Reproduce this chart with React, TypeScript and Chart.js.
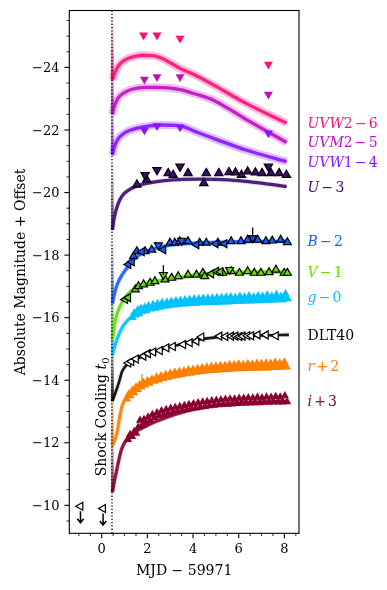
import React, { useEffect, useRef } from 'react';
import { Chart, registerables } from 'chart.js';
Chart.register(...registerables);

type P = [number, number];

// ---------- axis / tick data ----------
const xMin = -1.42;
const xMax = 8.64;
const yMin = -25.82;
const yMax = -9.106;
const xTicks = [0, 2, 4, 6, 8];
const yTicks = [-24, -22, -20, -18, -16, -14, -12, -10];
const t0 = 0.45;

// ---------- bands ----------
const bandNames = ['UVW2', 'UVM2', 'UVW1', 'U', 'B', 'V', 'g', 'DLT40', 'r', 'i'];
const bandOffsets = ['−6', '−5', '−4', '−3', '−2', '−1', '−0', '', '+2', '+3'];
const bandColors = ['#ff0f78', '#bf12bf', '#8a14ff', '#3e0b70', '#1c5cff', '#66dd00', '#00c2ff', '#000000', '#ff8000', '#8a0033'];

// ---------- shock-cooling model curves (MJD-59971, abs mag + offset) ----------
const uvw2Model: P[] = [[0.45, -27], [0.47, -23.6], [0.55, -23.78], [0.7, -24.02], [0.9, -24.18], [1.2, -24.3], [1.5, -24.36], [1.8, -24.39], [2.2, -24.38], [2.6, -24.3], [3.0, -24.15], [3.43, -23.97], [4.1, -23.75], [4.87, -23.45], [6.32, -22.85], [8.1, -22.22]];
const uvm2Model: P[] = [[0.45, -27], [0.47, -22.5], [0.55, -22.75], [0.7, -23.0], [0.9, -23.15], [1.2, -23.27], [1.5, -23.33], [1.9, -23.36], [2.4, -23.36], [3.0, -23.34], [3.5, -23.28], [4.1, -23.15], [4.87, -22.96], [6.32, -22.34], [8.1, -21.6]];
const uvw1Model: P[] = [[0.45, -27], [0.47, -21.2], [0.55, -21.45], [0.7, -21.7], [0.9, -21.85], [1.2, -21.98], [1.6, -22.07], [2.1, -22.13], [2.6, -22.16], [3.2, -22.15], [3.6, -22.1], [4.2, -21.92], [4.87, -21.74], [6.32, -21.36], [8.1, -20.99]];
const uModel: P[] = [[0.45, -27], [0.47, -18.8], [0.55, -19.2], [0.65, -19.5], [0.8, -19.78], [1.0, -19.98], [1.5, -20.2], [2.0, -20.3], [2.5, -20.36], [3.0, -20.4], [3.6, -20.42], [4.3, -20.43], [5.0, -20.42], [6.0, -20.38], [7.0, -20.3], [8.1, -20.19]];
const bModel: P[] = [[0.45, -27], [0.47, -16.45], [0.55, -16.75], [0.7, -17.1], [0.9, -17.38], [1.2, -17.68], [1.5, -17.93], [2.0, -18.13], [2.5, -18.25], [3.0, -18.32], [4.0, -18.38], [5.0, -18.41], [6.0, -18.43], [7.0, -18.44], [8.1, -18.44]];
const vModel: P[] = [[0.45, -27], [0.47, -15.3], [0.6, -15.94], [0.8, -16.36], [1.0, -16.62], [1.3, -16.86], [1.7, -17.03], [2.4, -17.17], [3.6, -17.3], [4.5, -17.4], [5.5, -17.44], [6.5, -17.46], [8.1, -17.46]];
const gModel: P[] = [[0.45, -27], [0.47, -14.8], [0.6, -15.15], [0.8, -15.55], [1.0, -15.8], [1.3, -16.03], [1.7, -16.2], [2.3, -16.35], [3.0, -16.45], [4.0, -16.53], [5.0, -16.58], [6.0, -16.61], [7.0, -16.63], [8.1, -16.65]];
const dltModel: P[] = [[0.45, -27], [0.47, -13.33], [0.6, -13.6], [0.75, -13.92], [0.89, -14.28], [1.11, -14.5], [1.5, -14.66], [2.0, -14.84], [2.8, -15.03], [3.6, -15.17], [4.3, -15.3], [5.0, -15.37], [6.0, -15.41], [7.0, -15.43], [8.2, -15.45]];
const rModel: P[] = [[0.45, -27], [0.47, -11.9], [0.55, -12.05], [0.67, -12.32], [0.78, -12.8], [0.89, -13.17], [1.11, -13.49], [1.4, -13.7], [1.84, -13.91], [2.43, -14.07], [3.15, -14.23], [4.03, -14.34], [4.62, -14.39], [5.5, -14.42], [6.5, -14.44], [8.1, -14.46]];
const iModel: P[] = [[0.45, -27], [0.47, -10.42], [0.55, -10.75], [0.65, -11.1], [0.75, -11.45], [0.85, -11.75], [1.0, -12.0], [1.2, -12.2], [1.4, -12.32], [2.1, -12.59], [2.8, -12.8], [3.7, -13.01], [4.6, -13.15], [5.5, -13.24], [6.5, -13.29], [8.1, -13.33]];
const models = [uvw2Model, uvm2Model, uvw1Model, uModel, bModel, vModel, gModel, dltModel, rModel, iModel];

// ---------- photometry ----------
const uvw2Swift: P[] = [[1.83, -25.03], [2.42, -25.03], [3.43, -24.93], [7.3, -24.1]];
const uvm2Swift: P[] = [[1.87, -23.62], [2.42, -23.7], [3.43, -23.7], [7.3, -23.14]];
const uvw1Swift: P[] = [[1.87, -22.0], [2.42, -22.13], [3.43, -22.09], [7.3, -21.9]];
const uSwift: P[] = [[1.9, -20.56], [2.42, -20.72], [3.43, -20.83], [7.3, -20.83]];
const uLco: P[] = [[1.54, -20.25], [1.97, -20.41], [2.91, -20.62], [3.13, -20.56], [3.78, -20.62], [4.47, -20.3], [4.58, -20.62], [5.13, -20.62], [5.57, -20.65], [5.86, -20.64], [6.12, -20.56], [6.39, -20.67], [6.73, -20.64], [7.02, -20.62], [7.41, -20.62], [7.77, -20.62], [8.09, -20.56]];
const bOther: P[] = [[1.17, -17.7], [1.32, -17.79], [1.76, -18.11], [2.7, -18.17], [4.15, -18.33], [4.99, -18.36], [5.38, -18.36]];
const bLco: P[] = [[1.39, -17.96], [1.54, -18.12], [1.9, -18.12], [2.19, -18.17], [2.99, -18.39], [3.2, -18.39], [3.42, -18.44], [3.78, -18.44], [4.29, -18.39], [4.58, -18.39], [5.09, -18.39], [5.67, -18.44], [6.1, -18.44], [6.39, -18.49], [6.83, -18.49], [7.19, -18.44], [7.47, -18.46], [7.84, -18.49], [8.13, -18.41]];
const bSwift: P[] = [[2.48, -18.32], [3.5, -18.46], [6.61, -18.55]];
const vOther: P[] = [[1.03, -16.58], [1.16, -16.64], [4.8, -17.4], [5.02, -17.48], [5.2, -17.47]];
const vLco: P[] = [[1.47, -16.9], [1.61, -17.0], [1.83, -17.06], [2.12, -17.11], [2.33, -17.16], [2.77, -17.22], [3.06, -17.27], [3.35, -17.32], [3.78, -17.37], [4.15, -17.37], [4.43, -17.43], [4.51, -17.32], [5.3, -17.43], [5.67, -17.48], [6.03, -17.43], [6.39, -17.48], [6.68, -17.43], [6.97, -17.43], [7.33, -17.45], [7.63, -17.53], [7.99, -17.43], [8.13, -17.43]];
const vSwift: P[] = [[2.7, -17.37], [5.6, -17.53]];
const gData: P[] = [[1.35, -16.0], [1.42, -16.15], [1.5, -16.08], [1.58, -16.25], [1.65, -16.12], [1.72, -16.3], [1.8, -16.2], [1.88, -16.33], [1.95, -16.22], [2.05, -16.38], [2.15, -16.27], [2.25, -16.42], [2.35, -16.3], [2.45, -16.45], [2.55, -16.33], [2.65, -16.48], [2.75, -16.36], [2.85, -16.5], [2.95, -16.38], [3.05, -16.52], [3.15, -16.4], [3.25, -16.54], [3.35, -16.42], [3.45, -16.55], [3.55, -16.43], [3.65, -16.57], [3.75, -16.44], [3.85, -16.58], [3.95, -16.45], [4.05, -16.6], [4.15, -16.46], [4.25, -16.6], [4.35, -16.47], [4.45, -16.62], [4.55, -16.47], [4.65, -16.62], [4.75, -16.48], [4.85, -16.63], [4.95, -16.48], [5.05, -16.64], [5.15, -16.49], [5.25, -16.64], [5.35, -16.5], [5.45, -16.66], [5.55, -16.5], [5.65, -16.67], [5.75, -16.51], [5.85, -16.64], [5.95, -16.52], [6.05, -16.68], [6.15, -16.52], [6.25, -16.66], [6.35, -16.53], [6.45, -16.7], [6.55, -16.53], [6.65, -16.66], [6.75, -16.54], [6.85, -16.7], [6.95, -16.54], [7.05, -16.68], [7.15, -16.55], [7.25, -16.72], [7.35, -16.55], [7.45, -16.68], [7.55, -16.56], [7.65, -16.74], [7.75, -16.57], [7.85, -16.68], [7.95, -16.57], [8.05, -16.76], [8.15, -16.6]];
const dltData: P[] = [[1.17, -14.55], [1.3, -14.6], [1.5, -14.68], [1.83, -14.77], [2.03, -14.85], [2.26, -14.9], [2.55, -14.95], [2.84, -15.04], [3.12, -15.08], [3.57, -15.14], [3.86, -15.2], [4.15, -15.25], [4.37, -15.38], [5.16, -15.41], [5.42, -15.4], [5.67, -15.41], [5.86, -15.41], [6.03, -15.4], [6.17, -15.41], [6.38, -15.42], [6.55, -15.42], [6.83, -15.45], [7.19, -15.45], [7.63, -15.42]];
const dltLimits: P[] = [[-0.93, -9.97], [0.06, -9.9]];
const rData: P[] = [[1.1, -13.4], [1.18, -13.56], [1.26, -13.5], [1.34, -13.68], [1.42, -13.6], [1.5, -13.78], [1.58, -13.7], [1.66, -13.86], [1.74, -13.78], [1.82, -13.93], [1.9, -13.84], [2.0, -13.98], [2.1, -13.9], [2.2, -14.04], [2.3, -13.96], [2.4, -14.1], [2.5, -14.0], [2.6, -14.14], [2.7, -14.05], [2.8, -14.18], [2.9, -14.08], [3.0, -14.22], [3.1, -14.12], [3.2, -14.25], [3.3, -14.15], [3.4, -14.28], [3.5, -14.18], [3.6, -14.3], [3.7, -14.2], [3.8, -14.33], [3.9, -14.22], [4.0, -14.35], [4.1, -14.25], [4.2, -14.37], [4.3, -14.27], [4.4, -14.4], [4.5, -14.28], [4.6, -14.42], [4.7, -14.3], [4.8, -14.44], [4.9, -14.31], [5.0, -14.45], [5.1, -14.32], [5.2, -14.47], [5.3, -14.33], [5.4, -14.48], [5.5, -14.34], [5.6, -14.5], [5.7, -14.35], [5.8, -14.49], [5.9, -14.36], [6.0, -14.52], [6.1, -14.36], [6.2, -14.5], [6.3, -14.37], [6.4, -14.53], [6.5, -14.37], [6.6, -14.52], [6.7, -14.38], [6.8, -14.54], [6.9, -14.38], [7.0, -14.53], [7.1, -14.39], [7.2, -14.55], [7.3, -14.39], [7.4, -14.54], [7.5, -14.4], [7.6, -14.57], [7.7, -14.4], [7.8, -14.55], [7.9, -14.41], [8.0, -14.58], [8.1, -14.42]];
const iData: P[] = [[1.15, -12.1], [1.24, -12.26], [1.33, -12.2], [1.42, -12.36], [1.51, -12.3], [1.6, -12.5], [1.68, -12.72], [1.76, -12.56], [1.85, -12.74], [1.94, -12.64], [2.03, -12.82], [2.12, -12.72], [2.22, -12.9], [2.32, -12.8], [2.42, -12.96], [2.52, -12.86], [2.62, -13.02], [2.72, -12.9], [2.82, -13.06], [2.92, -12.94], [3.02, -13.1], [3.12, -12.98], [3.22, -13.13], [3.32, -13.01], [3.42, -13.16], [3.52, -13.04], [3.62, -13.19], [3.72, -13.07], [3.82, -13.22], [3.92, -13.1], [4.02, -13.25], [4.12, -13.12], [4.22, -13.28], [4.32, -13.14], [4.42, -13.3], [4.52, -13.16], [4.62, -13.32], [4.72, -13.18], [4.82, -13.34], [4.92, -13.2], [5.02, -13.36], [5.12, -13.21], [5.22, -13.37], [5.32, -13.22], [5.42, -13.39], [5.52, -13.23], [5.62, -13.4], [5.72, -13.24], [5.82, -13.4], [5.92, -13.25], [6.02, -13.42], [6.12, -13.26], [6.22, -13.42], [6.32, -13.27], [6.42, -13.44], [6.52, -13.27], [6.62, -13.43], [6.72, -13.28], [6.82, -13.45], [6.92, -13.28], [7.02, -13.44], [7.12, -13.29], [7.22, -13.46], [7.32, -13.29], [7.42, -13.45], [7.52, -13.3], [7.62, -13.48], [7.72, -13.3], [7.82, -13.46], [7.92, -13.3], [8.02, -13.5], [8.12, -13.31]];
const errBars: [number, number, number][] = [[6.61, -18.55, -18.88], [2.7, -17.37, -17.68], [1.76, -13.92, -14.2]];
const errColors = ['#000000', '#000000', '#ff8000'];

// ---------- helpers ----------
const FT = "13px 'DejaVu Serif'";
const F = "14px 'DejaVu Serif'";
const FI = "italic 14px 'DejaVu Serif'";
const xy = (a: P[]) => a.map(([x, y]) => ({ x, y }));
function rgba(hex: string, a: number) {
  const n = parseInt(hex.slice(1), 16);
  return `rgba(${(n >> 16) & 255},${(n >> 8) & 255},${n & 255},${a})`;
}
const UP = 0, DOWN = 180, LEFT = 270;

function markers(data: P[], color: string, rot: number, r: number, edge: boolean, fill?: string) {
  return {
    type: 'line' as const,
    data: xy(data),
    showLine: false,
    pointStyle: 'triangle',
    rotation: rot,
    pointRadius: r,
    pointHoverRadius: r,
    backgroundColor: fill ?? color,
    borderColor: edge ? '#000' : color,
    pointBorderWidth: edge ? 1.2 : 0,
    order: 0,
  };
}

function buildDatasets() {
  const ds: any[] = [];
  const c = bandColors;
  ds.push(markers(uvw2Swift, c[0], DOWN, 5.2, false));
  ds.push(markers(uvm2Swift, c[1], DOWN, 5.2, false));
  ds.push(markers(uvw1Swift, c[2], DOWN, 5.2, false));
  ds.push(markers(uSwift, c[3], DOWN, 4.8, true));
  ds.push(markers(uLco, c[3], UP, 4.8, true));
  ds.push(markers(bOther, c[4], LEFT, 4.6, true));
  ds.push(markers(bSwift, c[4], DOWN, 4.6, true));
  ds.push(markers(bLco, c[4], UP, 4.6, true));
  ds.push(markers(vOther, c[5], LEFT, 4.6, true));
  ds.push(markers(vSwift, c[5], DOWN, 4.6, true));
  ds.push(markers(vLco, c[5], UP, 4.6, true));
  ds.push(markers(gData, c[6], UP, 4.8, false));
  ds.push(markers(dltData, c[7], LEFT, 4.6, true, '#ffffff'));
  ds.push(markers(dltLimits, c[7], LEFT, 4.6, true, '#ffffff'));
  ds.push(markers(rData, c[8], UP, 4.8, false));
  ds.push(markers(iData, c[9], UP, 4.8, false));
  models.forEach((m, k) => {
    const uv = k < 3;
    const col = c[k];
    const minMag = m[1][1];
    // steep early branch at t0, fading upwards
    ds.push({
      type: 'line', data: xy(m.slice(0, 2)), borderWidth: 3,
      borderColor: (ctx: any) => {
        const ch = ctx.chart;
        if (!ch.chartArea) return rgba(col, 0.6);
        const yp = ch.scales.y.getPixelForValue(minMag);
        const g = ch.ctx.createLinearGradient(0, yp, 0, yp - 70);
        g.addColorStop(0, rgba(col, 0.85));
        g.addColorStop(0.5, rgba(col, 0.35));
        g.addColorStop(1, rgba(col, 0));
        return g;
      },
      pointRadius: 0, clip: 0, order: 1,
    });
    ds.push({
      type: 'line', data: xy(m.slice(1)), borderColor: rgba(col, 0.9), borderWidth: k === 7 ? 2.6 : 3.3,
      pointRadius: 0, cubicInterpolationMode: 'monotone', clip: 0, order: 1,
    });
    ds.push({
      type: 'line', data: xy(m.slice(1)), borderColor: rgba(col, uv ? 0.28 : 0.12), borderWidth: uv ? 8 : 5,
      pointRadius: 0, cubicInterpolationMode: 'monotone', clip: 0, order: 2,
    });
  });
  return ds;
}

const overlay = {
  id: 'overlay',
  afterDatasetsDraw(chart: any) {
    const { ctx, chartArea: a, scales } = chart;
    const sx = scales.x, sy = scales.y;
    ctx.save();
    // t0 dotted line
    const px0 = sx.getPixelForValue(t0);
    ctx.strokeStyle = '#000';
    ctx.lineWidth = 1.3;
    ctx.setLineDash([1.3, 2]);
    ctx.beginPath(); ctx.moveTo(px0, a.top); ctx.lineTo(px0, a.bottom); ctx.stroke();
    ctx.setLineDash([]);
    // error bars
    errBars.forEach(([t, m1, m2], k) => {
      ctx.strokeStyle = errColors[k]; ctx.lineWidth = 1.3;
      const px = sx.getPixelForValue(t);
      ctx.beginPath(); ctx.moveTo(px, sy.getPixelForValue(m1)); ctx.lineTo(px, sy.getPixelForValue(m2)); ctx.stroke();
    });
    // upper-limit arrows
    ctx.strokeStyle = '#000'; ctx.lineWidth = 1.5;
    dltLimits.forEach(([t, m]) => {
      const px = sx.getPixelForValue(t), py = sy.getPixelForValue(m);
      const y1 = py + 5, y2 = py + 16.5;
      ctx.beginPath(); ctx.moveTo(px, y1); ctx.lineTo(px, y2);
      ctx.moveTo(px - 3.2, y2 - 4); ctx.lineTo(px, y2); ctx.lineTo(px + 3.2, y2 - 4);
      ctx.stroke();
    });
    // frame
    ctx.strokeStyle = '#000'; ctx.lineWidth = 1.1;
    ctx.strokeRect(a.left, a.top, a.right - a.left, a.bottom - a.top);
    // ticks
    ctx.fillStyle = '#000';
    for (let v = -25.5; v <= -9.2; v += 0.5) {
      const py = sy.getPixelForValue(v);
      const major = yTicks.includes(v);
      ctx.lineWidth = major ? 1.1 : 0.85;
      ctx.beginPath(); ctx.moveTo(a.left, py); ctx.lineTo(a.left - (major ? 4.9 : 2.8), py); ctx.stroke();
    }
    for (let v = -1; v <= 8.5; v += 0.5) {
      const px = sx.getPixelForValue(v);
      const major = xTicks.includes(v);
      ctx.lineWidth = major ? 1.1 : 0.85;
      ctx.beginPath(); ctx.moveTo(px, a.bottom); ctx.lineTo(px, a.bottom + (major ? 4.9 : 2.8)); ctx.stroke();
    }
    ctx.font = FT;
    ctx.textAlign = 'right'; ctx.textBaseline = 'alphabetic';
    yTicks.forEach((v) => {
      const py = sy.getPixelForValue(v);
      ctx.fillText((v < 0 ? '−' : '') + Math.abs(v), a.left - 9.8, py + 4.7);
    });
    ctx.textAlign = 'center';
    xTicks.forEach((v) => {
      ctx.fillText(String(v), sx.getPixelForValue(v), a.bottom + 19.3);
    });
    // axis titles
    ctx.font = F;
    ctx.fillText('MJD − 59971', (a.left + a.right) / 2, a.bottom + 42);
    ctx.save();
    ctx.translate(25, (a.top + a.bottom) / 2);
    ctx.rotate(-Math.PI / 2);
    ctx.fillText('Absolute Magnitude + Offset', 0, 0);
    ctx.restore();
    // Shock Cooling t0
    ctx.save();
    ctx.translate(sx.getPixelForValue(0.2), sy.getPixelForValue(-10.93));
    ctx.rotate(-Math.PI / 2);
    ctx.textAlign = 'left';
    ctx.font = F;
    const s = 'Shock Cooling ';
    ctx.fillText(s, 0, 0);
    let cx = ctx.measureText(s).width;
    ctx.font = FI;
    ctx.fillText('t', cx, 0);
    cx += ctx.measureText('t').width;
    ctx.font = "10px 'DejaVu Serif'";
    ctx.fillText('0', cx, 2.8);
    ctx.restore();
    // band labels
    ctx.textAlign = 'left';
    bandNames.forEach((name, k) => {
      const m = models[k];
      const y = sy.getPixelForValue(m[m.length - 1][1]) + 5;
      let x = a.right + 8.5;
      ctx.fillStyle = bandColors[k];
      const off = bandOffsets[k];
      if (!off) { ctx.font = F; ctx.fillText(name, x, y); return; }
      for (const ch of name) {
        ctx.font = /[0-9]/.test(ch) ? F : FI;
        ctx.fillText(ch, x, y);
        x += ctx.measureText(ch).width;
      }
      ctx.font = F;
      x += 2.2;
      ctx.fillText(off[0], x, y);
      x += ctx.measureText(off[0]).width + 2.2;
      ctx.fillText(off.slice(1), x, y);
    });
    ctx.restore();
  },
};

export default function App() {
  const ref = useRef<HTMLCanvasElement>(null);
  useEffect(() => {
    const chart = new Chart(ref.current as HTMLCanvasElement, {
      type: 'line',
      data: { datasets: buildDatasets() },
      options: {
        animation: false,
        responsive: false,
        devicePixelRatio: 1,
        layout: { padding: { left: 69.3, top: 10.5, right: 88, bottom: 56.7 } },
        scales: {
          x: { type: 'linear', min: xMin, max: xMax, display: false },
          y: { type: 'linear', min: yMin, max: yMax, reverse: true, display: false },
        },
        plugins: { legend: { display: false }, tooltip: { enabled: false } },
        events: [],
      },
      plugins: [overlay],
    } as any);
    return () => chart.destroy();
  }, []);
  return (
    <canvas
      ref={ref}
      width={387}
      height={590}
      style={{ position: 'fixed', left: 0, top: 0, width: 387, height: 590, display: 'block', background: '#fff' }}
    />
  );
}
